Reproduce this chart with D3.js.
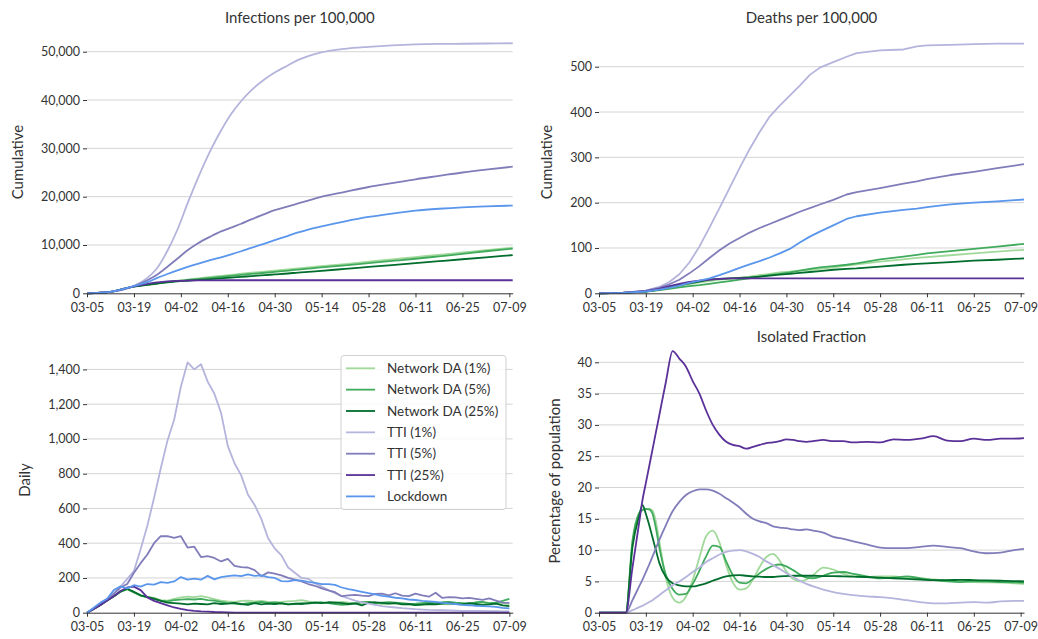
<!DOCTYPE html>
<html>
<head>
<meta charset="utf-8">
<script src="https://cdn.jsdelivr.net/npm/d3@7"></script>
<style>
  body { margin: 0; background: #fff; }
  svg text { font-family: Lato, "Open Sans", sans-serif; fill: #333; }
</style>
</head>
<body>
<svg id="chart" width="1038" height="639"></svg>
<script>
// ---- shared categories ----
const startDate = Date.UTC(2020, 2, 5);
const tickDays = [0, 14, 28, 42, 56, 70, 84, 98, 112, 126];
const tickLabels = ["03-05", "03-19", "04-02", "04-16", "04-30", "05-14", "05-28", "06-11", "06-25", "07-09"];
const seriesNames = ["Network DA (1%)", "Network DA (5%)", "Network DA (25%)", "TTI (1%)", "TTI (5%)", "TTI (25%)", "Lockdown"];
const seriesColors = ["#a1d99b", "#41ab5d", "#006d2c", "#b4b4dc", "#807dba", "#5a3198", "#5a96ec"];

// ---- cumulative infections per 100,000 ----
const infDays = [0, 7, 14, 18, 21, 24, 27, 30, 33, 37, 40, 43, 46, 49, 53, 56, 60, 63, 66, 69, 77, 84, 91, 98, 105, 112, 119, 127];
const infNet1  = [0, 300, 1450, 1800, 2100, 2350, 2600, 2850, 3100, 3400, 3600, 3800, 4050, 4250, 4500, 4700, 4950, 5150, 5350, 5550, 6050, 6550, 7000, 7500, 7950, 8450, 8950, 9450];
const infNet5  = [0, 300, 1450, 1800, 2050, 2300, 2550, 2750, 2950, 3200, 3400, 3600, 3800, 4000, 4250, 4450, 4700, 4900, 5100, 5300, 5800, 6250, 6700, 7150, 7650, 8150, 8700, 9250];
const infNet25 = [0, 300, 1400, 1750, 2000, 2250, 2450, 2600, 2750, 2950, 3100, 3250, 3400, 3550, 3750, 3900, 4100, 4300, 4450, 4600, 5050, 5450, 5850, 6250, 6650, 7050, 7450, 7900];
const infTti1  = [0, 300, 1500, 3200, 5300, 8800, 13200, 18600, 23700, 29800, 33700, 37100, 39800, 42000, 44300, 45700, 47200, 48300, 49100, 49700, 50600, 51000, 51300, 51500, 51600, 51650, 51700, 51750];
const infTti5  = [0, 300, 1500, 2700, 3900, 5500, 7200, 8900, 10300, 11800, 12800, 13600, 14400, 15300, 16400, 17200, 18000, 18600, 19200, 19800, 21000, 22000, 22800, 23600, 24300, 25000, 25600, 26200];
const infTti25 = [0, 300, 1450, 1950, 2250, 2450, 2560, 2630, 2670, 2690, 2700, 2700, 2700, 2700, 2700, 2700, 2700, 2700, 2700, 2700, 2700, 2700, 2700, 2700, 2700, 2700, 2700, 2700];
const infLock  = [0, 300, 1500, 2300, 3200, 4000, 4750, 5450, 6100, 6900, 7450, 8050, 8700, 9400, 10300, 11000, 11900, 12600, 13200, 13700, 14900, 15800, 16500, 17100, 17500, 17800, 18000, 18150];

// ---- cumulative deaths per 100,000 ----
const deathDays = [0, 7, 14, 18, 21, 24, 27, 30, 33, 36, 39, 42, 45, 48, 51, 54, 57, 60, 63, 66, 70, 74, 77, 84, 91, 95, 98, 105, 112, 119, 127];
const deathNet1  = [0, 1, 4, 8, 12, 16, 20, 24, 27, 30, 32, 34, 37, 40, 43, 46, 48, 50, 52, 54, 57, 61, 64, 70, 75, 78, 80, 84, 88, 92, 96];
const deathNet5  = [0, 1, 4, 7, 10, 13, 16, 18, 21, 24, 27, 30, 33, 37, 40, 43, 46, 50, 54, 57, 60, 63, 66, 75, 81, 85, 88, 93, 98, 103, 109];
const deathNet25 = [0, 1, 4, 8, 13, 18, 22, 26, 30, 32, 33, 34, 35, 37, 39, 41, 43, 45, 47, 49, 52, 54, 55, 59, 63, 65, 66, 69, 72, 74, 77];
const deathTti1  = [0, 1, 6, 14, 25, 42, 68, 103, 145, 188, 232, 276, 318, 356, 390, 414, 436, 458, 482, 498, 510, 522, 530, 536, 538, 545, 547, 548, 550, 551, 551];
const deathTti5  = [0, 1, 6, 12, 20, 30, 44, 60, 78, 95, 110, 122, 134, 144, 153, 162, 171, 180, 188, 196, 206, 218, 223, 232, 242, 247, 252, 261, 268, 276, 285];
const deathTti25 = [0, 1, 5, 10, 16, 21, 25, 28, 30, 32, 33, 33, 33, 33, 33, 33, 33, 33, 33, 33, 33, 33, 33, 33, 33, 33, 33, 33, 33, 33, 33];
const deathLock  = [0, 1, 4, 8, 12, 17, 23, 28, 33, 40, 48, 56, 64, 71, 79, 88, 98, 112, 125, 136, 150, 164, 170, 178, 184, 187, 190, 196, 200, 203, 207];

// ---- daily infections (every second day) ----
const dailyDays = d3.range(0, 127, 2);
const dailyNet1 = [0, 22, 45, 70, 95, 122, 135, 115,  100, 92, 85, 72, 70, 80, 88, 92,
  90, 95, 88, 78, 70, 65, 62, 68,  70, 65, 68, 62, 60, 62, 65, 68,
  72, 65, 60, 55, 58, 60, 62, 58,  55, 60, 58, 55, 50, 52, 55, 50,
  48, 45, 48, 50, 52, 50, 48, 52,  50, 48, 45, 48, 50, 52, 55, 50];
const dailyNet5 = [0, 22, 45, 70, 95, 120, 135, 118,  98, 90, 82, 70, 65, 72, 75, 78,
  76, 80, 72, 70, 62, 55, 52, 48,  55, 58, 62, 56, 60, 55, 48, 50,
  55, 52, 58, 60, 55, 50, 45, 48,  52, 60, 62, 55, 58, 60, 58, 55,
  50, 52, 55, 58, 55, 60, 62, 58,  55, 52, 60, 62, 55, 58, 68, 80];
const dailyNet25 = [0, 22, 45, 70, 95, 122, 138, 120,  100, 90, 80, 68, 58, 55, 52, 48,
  52, 50, 48, 55, 50, 52, 56, 50,  45, 55, 48, 52, 50, 54, 48, 52,
  50, 55, 58, 55, 60, 58, 55, 50,  54, 42, 58, 60, 56, 52, 55, 48,
  50, 44, 46, 50, 48, 52, 55, 50,  48, 55, 50, 45, 48, 52, 42, 38];
const dailyTti1 = [0, 25, 50, 80, 110, 150, 195, 240,  365, 500, 660, 830, 990, 1110, 1300, 1440,
  1400, 1430, 1330, 1260, 1150, 960, 860, 790,  680, 620, 540, 430, 370, 330, 260, 230,
  200, 195, 170, 150, 130, 112, 95, 82,  70, 60, 52, 45, 38, 34, 30, 26,
  23, 20, 18, 16, 15, 14, 13, 12,  11, 11, 10, 10, 9, 9, 8, 8];
const dailyTti5 = [0, 22, 46, 72, 110, 145, 165, 230,  285, 335, 400, 440, 440, 430, 440, 375,
  380, 320, 325, 315, 295, 310, 270, 262,  260, 245, 210, 232, 225, 215, 200, 190,
  180, 165, 155, 140, 128, 118, 95, 100,  102, 98, 95, 108, 110, 100, 112, 98,
  95, 110, 100, 92, 115, 85, 90, 88,  82, 85, 80, 74, 82, 70, 58, 57];
const dailyTti25 = [0, 22, 45, 70, 95, 125, 145, 150,  130, 88, 68, 55, 42, 30, 22, 15,
  11, 8, 6, 4, 3, 2, 1, 1,  0, 0, 0, 0, 0, 0, 0, 0,
  0, 0, 0, 0, 0, 0, 0, 0,  0, 0, 0, 0, 0, 0, 0, 0,
  0, 0, 0, 0, 0, 0, 0, 0,  0, 0, 0, 0, 0, 0, 0, 0];
const dailyLock = [0, 28, 58, 80, 130, 152, 140, 158,  150, 165, 162, 176, 172, 180, 205, 190,
  196, 190, 212, 192, 205, 210, 215, 210,  220, 212, 215, 205, 200, 182, 180, 188,
  185, 178, 172, 165, 165, 160, 145, 135,  128, 120, 112, 105, 97, 92, 86, 82,
  76, 73, 68, 65, 62, 56, 54, 50,  45, 43, 40, 38, 36, 33, 28, 25];

// ---- isolated fraction, percentage of population ----
const isoDays = [0, 8, 10, 12, 13, 14, 15, 16, 17, 18, 20, 22, 24, 26, 28, 30, 32, 34, 36, 38, 40, 42, 44, 46, 48, 50, 52, 54, 56, 58, 60, 62, 64, 67, 70, 73, 76, 80, 84, 88, 92, 96, 100, 104, 108, 112, 116, 120, 124, 127];
const isoNet1  = [0, 0, 10.8, 15.9, 16.4, 16.6, 16.6, 16.3, 14.5, 11.5, 5.5, 2.4, 1.6, 2.6, 5.2, 8.8, 12.2, 13.1, 11.2, 7.6, 4.8, 3.7, 3.9, 5.3, 7.3, 8.9, 9.4, 8.3, 6.6, 5.4, 5.0, 5.3, 6.0, 7.2, 6.9, 6.2, 5.8, 5.7, 5.8, 5.8, 5.6, 5.5, 5.3, 5.2, 5.0, 4.9, 4.85, 4.8, 4.7, 4.6];
const isoNet5  = [0, 0, 11.5, 15.9, 16.4, 16.6, 16.5, 15.8, 13.5, 10.5, 6.0, 3.8, 2.9, 3.0, 4.6, 6.7, 9.0, 10.7, 10.5, 8.2, 6.0, 4.8, 4.7, 5.4, 6.3, 7.0, 7.5, 7.7, 7.4, 6.8, 6.1, 5.6, 5.5, 5.9, 6.4, 6.5, 6.2, 5.8, 5.5, 5.6, 5.8, 5.5, 5.2, 5.0, 4.9, 5.0, 5.0, 4.9, 4.85, 4.8];
const isoNet25 = [0, 0, 10.5, 15.5, 17.2, 15.8, 14.0, 12.0, 10.0, 8.0, 5.7, 4.7, 4.35, 4.2, 4.2, 4.4, 4.7, 5.1, 5.5, 5.8, 5.95, 6.0, 5.9, 5.8, 5.75, 5.7, 5.7, 5.8, 5.85, 5.9, 5.9, 5.9, 5.9, 5.85, 5.85, 5.8, 5.75, 5.7, 5.6, 5.5, 5.4, 5.3, 5.2, 5.2, 5.25, 5.2, 5.15, 5.1, 5.05, 5.0];
const isoTti1  = [0, 0, 0.4, 0.9, 1.1, 1.4, 1.7, 2.0, 2.4, 2.8, 3.6, 4.4, 5.0, 5.7, 6.5, 7.2, 8.1, 8.7, 9.3, 9.7, 9.9, 10.0, 9.8, 9.4, 8.9, 8.2, 7.6, 7.0, 6.3, 5.7, 5.1, 4.6, 4.2, 3.7, 3.3, 3.0, 2.8, 2.6, 2.5, 2.3, 2.0, 1.7, 1.5, 1.5, 1.6, 1.7, 1.6, 1.8, 1.9, 1.9];
const isoTti5  = [0, 0, 2.0, 4.2, 5.3, 6.5, 7.7, 9.0, 10.3, 11.6, 14.0, 16.2, 17.7, 18.8, 19.4, 19.7, 19.7, 19.5, 19.0, 18.3, 17.6, 16.8, 15.8, 15.0, 14.6, 14.3, 13.8, 13.6, 13.5, 13.3, 13.2, 13.3, 13.1, 12.8, 12.1, 11.8, 11.4, 10.9, 10.4, 10.3, 10.3, 10.5, 10.7, 10.5, 10.3, 9.8, 9.5, 9.6, 10.0, 10.2];
const isoTti25 = [0, 0, 7.2, 14.4, 18.0, 20.7, 23.4, 26.1, 28.8, 31.5, 36.9, 41.8, 40.6, 39.3, 37.0, 35.0, 32.3, 30.0, 28.4, 27.3, 26.8, 26.6, 26.2, 26.5, 26.8, 27.1, 27.2, 27.4, 27.7, 27.6, 27.4, 27.3, 27.4, 27.6, 27.4, 27.4, 27.2, 27.3, 27.2, 27.7, 27.6, 27.8, 28.2, 27.5, 27.4, 27.8, 27.6, 27.8, 27.8, 27.9];

// ---- drawing ----
const svg = d3.select("#chart");
const dayDate = d => new Date(startDate + d * 864e5);
const endDay = 127;

function drawPanel(opt) {
  const x = d3.scaleUtc().domain([dayDate(0), dayDate(endDay)]).range([opt.x0, opt.x1]);
  const y = d3.scaleLinear().domain([0, opt.refValue]).range([opt.y0, opt.yRef]);
  const g = svg.append("g");

  // horizontal grid
  g.append("g").selectAll("line")
    .data(opt.yTicks.filter(v => v > 0))
    .join("line")
    .attr("x1", opt.x0).attr("x2", opt.x1)
    .attr("y1", d => y(d)).attr("y2", d => y(d))
    .attr("stroke", "#d4d4d4").attr("stroke-width", 1);

  // y axis (ticks + labels only)
  const ya = g.append("g").attr("transform", `translate(${opt.x0},0)`)
    .call(d3.axisLeft(y).tickValues(opt.yTicks).tickFormat(opt.yFormat).tickSize(4).tickPadding(3));
  ya.select(".domain").remove();
  ya.selectAll("line").attr("stroke", "#333");
  ya.selectAll("text").style("font-size", "12.5px").attr("fill", "#333");

  // series
  const line = d3.line()
    .x(d => x(dayDate(d[0])))
    .y(d => y(d[1]))
    .curve(opt.curve);
  opt.series.forEach(s => {
    g.append("path")
      .datum(opt.days.map((d, i) => [d, s.values[i]]))
      .attr("fill", "none")
      .attr("stroke", seriesColors[s.idx])
      .attr("stroke-width", 1.8)
      .attr("stroke-linejoin", "round")
      .attr("d", line);
  });

  // x axis
  const xa = g.append("g").attr("transform", `translate(0,${opt.y0})`)
    .call(d3.axisBottom(x).tickValues(tickDays.map(dayDate))
      .tickFormat((d, i) => tickLabels[i]).tickSize(4).tickSizeOuter(0).tickPadding(5.5));
  xa.select(".domain").attr("stroke", "#333");
  xa.selectAll("line").attr("stroke", "#333");
  xa.selectAll("text").style("font-size", "12.5px").attr("fill", "#333");

  if (opt.title) {
    g.append("text").attr("x", (opt.x0 + opt.x1) / 2).attr("y", opt.titleY)
      .attr("text-anchor", "middle").style("font-size", "15px").text(opt.title);
  }
  g.append("text")
    .attr("transform", `translate(${opt.labelX},${opt.labelY}) rotate(-90)`)
    .attr("text-anchor", "middle").attr("dy", "0.35em")
    .style("font-size", "15px").text(opt.yLabel);
  return g;
}

const fmtComma = d3.format(",");

drawPanel({
  x0: 87, x1: 512.7, y0: 293.3, yRef: 51.7, refValue: 50000,
  yTicks: [0, 10000, 20000, 30000, 40000, 50000], yFormat: fmtComma,
  days: infDays, curve: d3.curveMonotoneX,
  series: [
    { idx: 0, values: infNet1 }, { idx: 1, values: infNet5 }, { idx: 2, values: infNet25 },
    { idx: 3, values: infTti1 }, { idx: 4, values: infTti5 }, { idx: 5, values: infTti25 },
    { idx: 6, values: infLock }
  ],
  title: "Infections per 100,000", titleY: 23,
  yLabel: "Cumulative", labelX: 18, labelY: 162
});

drawPanel({
  x0: 599, x1: 1024, y0: 293.3, yRef: 66.7, refValue: 500,
  yTicks: [0, 100, 200, 300, 400, 500], yFormat: fmtComma,
  days: deathDays, curve: d3.curveLinear,
  series: [
    { idx: 0, values: deathNet1 }, { idx: 1, values: deathNet5 }, { idx: 2, values: deathNet25 },
    { idx: 3, values: deathTti1 }, { idx: 4, values: deathTti5 }, { idx: 5, values: deathTti25 },
    { idx: 6, values: deathLock }
  ],
  title: "Deaths per 100,000", titleY: 23,
  yLabel: "Cumulative", labelX: 547, labelY: 162
});

drawPanel({
  x0: 87, x1: 512.7, y0: 612.7, yRef: 369.4, refValue: 1400,
  yTicks: [0, 200, 400, 600, 800, 1000, 1200, 1400], yFormat: fmtComma,
  days: dailyDays, curve: d3.curveLinear,
  series: [
    { idx: 0, values: dailyNet1 }, { idx: 1, values: dailyNet5 }, { idx: 2, values: dailyNet25 },
    { idx: 3, values: dailyTti1 }, { idx: 4, values: dailyTti5 }, { idx: 5, values: dailyTti25 },
    { idx: 6, values: dailyLock }
  ],
  title: null,
  yLabel: "Daily", labelX: 25, labelY: 480
});

drawPanel({
  x0: 599, x1: 1024, y0: 612.7, yRef: 362.3, refValue: 40,
  yTicks: [0, 5, 10, 15, 20, 25, 30, 35, 40], yFormat: d3.format("d"),
  days: isoDays, curve: d3.curveMonotoneX,
  series: [
    { idx: 0, values: isoNet1 }, { idx: 1, values: isoNet5 }, { idx: 2, values: isoNet25 },
    { idx: 3, values: isoTti1 }, { idx: 4, values: isoTti5 }, { idx: 5, values: isoTti25 }
  ],
  title: "Isolated Fraction", titleY: 342,
  yLabel: "Percentage of population", labelX: 555, labelY: 481
});

// legend
const lg = svg.append("g");
lg.append("rect")
  .attr("x", 341).attr("y", 355.5).attr("width", 165).attr("height", 154)
  .attr("rx", 3).attr("fill", "#fff").attr("fill-opacity", 0.85)
  .attr("stroke", "#d0d0d0").attr("stroke-width", 1);
seriesNames.forEach((name, i) => {
  const cy = 368.3 + i * 21.35;
  lg.append("line").attr("x1", 346).attr("x2", 375).attr("y1", cy).attr("y2", cy)
    .attr("stroke", seriesColors[i]).attr("stroke-width", 1.8);
  lg.append("text").attr("x", 387).attr("y", cy).attr("dy", "0.35em")
    .style("font-size", "13.5px").text(name);
});
</script>
</body>
</html>
